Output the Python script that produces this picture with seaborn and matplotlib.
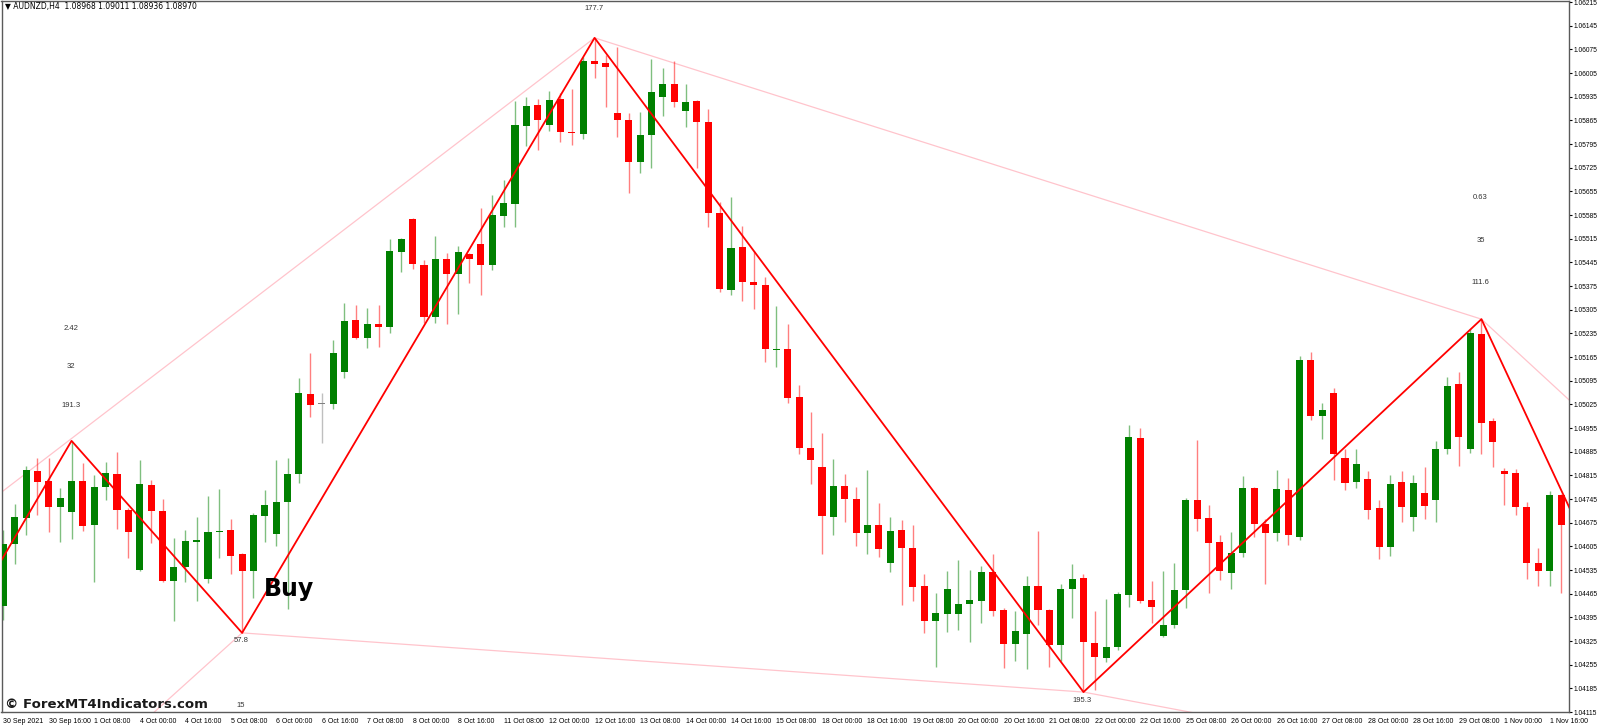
import matplotlib
matplotlib.use("Agg")
import matplotlib.pyplot as plt
import numpy as np
import pandas as pd
import seaborn as sns

# AUDNZD H4 candles, 30 Sep 2021 00:00 .. 1 Nov 2021 20:00
opens = [1.04428, 1.04612, 1.04689, 1.04828, 1.04798, 1.04721, 1.04707, 1.04798, 1.04668, 1.04781,
         1.04819, 1.04712, 1.04535, 1.04786, 1.04709, 1.04502, 1.04544, 1.04618, 1.04508, 1.04647,
         1.04653, 1.04582, 1.04532, 1.04695, 1.04641, 1.04736, 1.04819, 1.05055, 1.05026, 1.05026,
         1.05121, 1.05274, 1.05221, 1.05263, 1.05254, 1.05476, 1.05573, 1.05437, 1.05283, 1.05455,
         1.05411, 1.05470, 1.05499, 1.05437, 1.05582, 1.05618, 1.05848, 1.05910, 1.05851, 1.05928,
         1.05831, 1.05825, 1.06041, 1.06035, 1.05887, 1.05866, 1.05742, 1.05822, 1.05934, 1.05973,
         1.05893, 1.05922, 1.05860, 1.05591, 1.05363, 1.05490, 1.05387, 1.05378, 1.05186, 1.05189,
         1.05047, 1.04896, 1.04840, 1.04692, 1.04783, 1.04745, 1.04644, 1.04668, 1.04556, 1.04653,
         1.04600, 1.04488, 1.04384, 1.04405, 1.04405, 1.04434, 1.04443, 1.04529, 1.04417, 1.04316,
         1.04346, 1.04488, 1.04417, 1.04313, 1.04479, 1.04511, 1.04319, 1.04275, 1.04307, 1.04461,
         1.04925, 1.04446, 1.04340, 1.04372, 1.04476, 1.04742, 1.04689, 1.04618, 1.04526, 1.04585,
         1.04778, 1.04671, 1.04644, 1.04772, 1.04633, 1.05156, 1.04991, 1.05058, 1.04866, 1.04795,
         1.04804, 1.04718, 1.04603, 1.04795, 1.04692, 1.04763, 1.04742, 1.04893, 1.05085, 1.04893,
         1.05233, 1.04976, 1.04828, 1.04822, 1.04721, 1.04556, 1.04532, 1.04757]
highs = [1.04653, 1.04730, 1.04843, 1.04866, 1.04866, 1.04778, 1.04917, 1.04851, 1.04816, 1.04854,
         1.04884, 1.04718, 1.04860, 1.04801, 1.04745, 1.04630, 1.04653, 1.04692, 1.04754, 1.04775,
         1.04686, 1.04585, 1.04704, 1.04772, 1.04860, 1.04866, 1.05103, 1.05177, 1.05058, 1.05215,
         1.05325, 1.05319, 1.05310, 1.05319, 1.05514, 1.05517, 1.05576, 1.05452, 1.05523, 1.05473,
         1.05493, 1.05473, 1.05606, 1.05644, 1.05689, 1.05922, 1.05934, 1.05928, 1.05952, 1.05946,
         1.05958, 1.06052, 1.06109, 1.06058, 1.06082, 1.05887, 1.05890, 1.06047, 1.06020, 1.06041,
         1.05973, 1.05925, 1.05899, 1.05624, 1.05638, 1.05553, 1.05479, 1.05402, 1.05316, 1.05263,
         1.05082, 1.05002, 1.04940, 1.04863, 1.04819, 1.04781, 1.04831, 1.04733, 1.04692, 1.04683,
         1.04668, 1.04523, 1.04467, 1.04532, 1.04565, 1.04535, 1.04547, 1.04582, 1.04423, 1.04414,
         1.04517, 1.04650, 1.04420, 1.04494, 1.04553, 1.04523, 1.04414, 1.04449, 1.04470, 1.04964,
         1.04955, 1.04502, 1.04532, 1.04556, 1.04748, 1.04920, 1.04727, 1.04639, 1.04647, 1.04813,
         1.04781, 1.04686, 1.04831, 1.04807, 1.05168, 1.05180, 1.05029, 1.05073, 1.04893, 1.04893,
         1.04828, 1.04742, 1.04816, 1.04828, 1.04816, 1.04840, 1.04917, 1.05106, 1.05121, 1.05248,
         1.05277, 1.04985, 1.04837, 1.04834, 1.04736, 1.04600, 1.04769, 1.04760]
lows = [1.04387, 1.04553, 1.04639, 1.04698, 1.04647, 1.04618, 1.04627, 1.04650, 1.04499, 1.04742,
        1.04656, 1.04570, 1.04532, 1.04615, 1.04499, 1.04384, 1.04499, 1.04443, 1.04497, 1.04570,
        1.04523, 1.04349, 1.04452, 1.04618, 1.04606, 1.04420, 1.04792, 1.04988, 1.04911, 1.05011,
        1.05103, 1.05218, 1.05192, 1.05195, 1.05236, 1.05416, 1.05425, 1.05266, 1.05266, 1.05263,
        1.05292, 1.05384, 1.05348, 1.05422, 1.05550, 1.05550, 1.05789, 1.05777, 1.05834, 1.05801,
        1.05792, 1.05810, 1.05990, 1.05905, 1.05816, 1.05650, 1.05709, 1.05724, 1.05878, 1.05905,
        1.05845, 1.05724, 1.05550, 1.05357, 1.05348, 1.05331, 1.05307, 1.05150, 1.05135, 1.05029,
        1.04878, 1.04789, 1.04582, 1.04639, 1.04677, 1.04606, 1.04582, 1.04573, 1.04529, 1.04431,
        1.04443, 1.04349, 1.04248, 1.04352, 1.04358, 1.04322, 1.04378, 1.04399, 1.04245, 1.04266,
        1.04242, 1.04372, 1.04248, 1.04266, 1.04393, 1.04174, 1.04180, 1.04263, 1.04298, 1.04426,
        1.04437, 1.04378, 1.04337, 1.04363, 1.04423, 1.04650, 1.04467, 1.04505, 1.04479, 1.04573,
        1.04633, 1.04494, 1.04621, 1.04609, 1.04624, 1.04979, 1.04922, 1.04801, 1.04772, 1.04778,
        1.04686, 1.04568, 1.04576, 1.04677, 1.04650, 1.04686, 1.04677, 1.04878, 1.04843, 1.04881,
        1.04878, 1.04840, 1.04727, 1.04698, 1.04508, 1.04488, 1.04488, 1.04467]
closes = [1.04612, 1.04692, 1.04831, 1.04795, 1.04721, 1.04748, 1.04798, 1.04665, 1.04781, 1.04822,
          1.04712, 1.04647, 1.04789, 1.04709, 1.04502, 1.04544, 1.04621, 1.04624, 1.04647, 1.04650,
          1.04576, 1.04532, 1.04698, 1.04727, 1.04736, 1.04819, 1.05058, 1.05023, 1.05026, 1.05177,
          1.05272, 1.05221, 1.05263, 1.05254, 1.05479, 1.05514, 1.05440, 1.05283, 1.05455, 1.05411,
          1.05476, 1.05455, 1.05437, 1.05585, 1.05621, 1.05851, 1.05908, 1.05866, 1.05925, 1.05831,
          1.05828, 1.06041, 1.06032, 1.06023, 1.05866, 1.05742, 1.05822, 1.05949, 1.05973, 1.05919,
          1.05919, 1.05860, 1.05591, 1.05366, 1.05487, 1.05387, 1.05378, 1.05189, 1.05189, 1.05044,
          1.04896, 1.04860, 1.04695, 1.04783, 1.04745, 1.04644, 1.04668, 1.04597, 1.04650, 1.04600,
          1.04485, 1.04384, 1.04408, 1.04479, 1.04434, 1.04446, 1.04529, 1.04414, 1.04316, 1.04355,
          1.04488, 1.04417, 1.04313, 1.04479, 1.04508, 1.04322, 1.04278, 1.04307, 1.04464, 1.04928,
          1.04443, 1.04426, 1.04372, 1.04476, 1.04742, 1.04686, 1.04615, 1.04532, 1.04585, 1.04778,
          1.04671, 1.04644, 1.04775, 1.04639, 1.05156, 1.04991, 1.05008, 1.04878, 1.04792, 1.04849,
          1.04712, 1.04603, 1.04789, 1.04721, 1.04792, 1.04724, 1.04893, 1.05079, 1.04928, 1.05236,
          1.04970, 1.04914, 1.04819, 1.04721, 1.04556, 1.04532, 1.04757, 1.04668]

time_labels = ["30 Sep 2021", "30 Sep 16:00", "1 Oct 08:00", "4 Oct 00:00", "4 Oct 16:00",
               "5 Oct 08:00", "6 Oct 00:00", "6 Oct 16:00", "7 Oct 08:00", "8 Oct 00:00",
               "8 Oct 16:00", "11 Oct 08:00", "12 Oct 00:00", "12 Oct 16:00", "13 Oct 08:00",
               "14 Oct 00:00", "14 Oct 16:00", "15 Oct 08:00", "18 Oct 00:00", "18 Oct 16:00",
               "19 Oct 08:00", "20 Oct 00:00", "20 Oct 16:00", "21 Oct 08:00", "22 Oct 00:00",
               "22 Oct 16:00", "25 Oct 08:00", "26 Oct 00:00", "26 Oct 16:00", "27 Oct 08:00",
               "28 Oct 00:00", "28 Oct 16:00", "29 Oct 08:00", "1 Nov 00:00", "1 Nov 16:00"]

# zigzag turning points (bar index, price); first and last run off the chart
zz_idx = [-3, 6, 21, 52, 95, 130, 138]
zz_price = [1.04402, 1.04917, 1.04349, 1.06109, 1.04174, 1.05277, 1.04700]

# thin pattern lines of the harmonic indicator
pattern_lines = [((-7, 1.04589), (52, 1.06109)),
                 ((52, 1.06109), (130, 1.05277)),
                 ((130, 1.05277), (138, 1.05029)),
                 ((12, 1.04076), (21, 1.04349)),
                 ((21, 1.04349), (95, 1.04174)),
                 ((95, 1.04174), (110, 1.04079))]

# ratio labels next to the pivots: (bar, price, text, pixel offset up)
pivot_labels = [(52, 1.06109, "177.7", 29),
                (6, 1.04917, "191.3", 35), (6, 1.04917, "32", 74), (6, 1.04917, "2.42", 112),
                (21, 1.04349, "57.8", -8), (21, 1.04349, "15", -73),
                (95, 1.04174, "195.3", -8),
                (130, 1.05277, "111.6", 37), (130, 1.05277, "35", 79), (130, 1.05277, "0.63", 122)]

sns.set_style("white")
plt.rcParams["font.family"] = ["Liberation Sans", "DejaVu Sans"]

df = pd.DataFrame({"open": opens, "high": highs, "low": lows, "close": closes})
df["bar"] = np.arange(len(df))
df["color"] = np.where(df.close > df.open, "#008000",
                       np.where(df.close < df.open, "#ff0000", "#808080"))
body_lo = df[["open", "close"]].min(axis=1)
body_h = (df.close - df.open).abs().clip(lower=0.00003)

fig = plt.figure(figsize=(16, 7.25), dpi=100)
ax = fig.add_axes([1.5 / 1600, 13 / 725, 1567.5 / 1600, 711 / 725])

for (i0, p0), (i1, p1) in pattern_lines:
    sns.lineplot(x=[i0, i1], y=[p0, p1], color="#ffc4cc", lw=0.9, sort=False,
                 estimator=None, ax=ax, zorder=1)

ax.vlines(df.bar, df.low, df.high, colors=df.color, lw=1, alpha=0.5, zorder=2)
ax.bar(df.bar, body_h, bottom=body_lo, width=0.62, color=df.color, linewidth=0, zorder=3)

sns.lineplot(x=zz_idx, y=zz_price, color="#ff0000", lw=1.3, sort=False,
             estimator=None, ax=ax, zorder=4)

for i, p, txt, dy in pivot_labels:
    ax.annotate(txt, (i, p), xytext=(-1, dy), textcoords="offset pixels",
                ha="center", va="center", fontsize=5.5, color="#333333")

ax.text(22.9, 1.04478, "Buy", fontsize=17, fontweight="bold", color="black",
        family="DejaVu Sans", va="center", ha="left", zorder=5)

ax.set_xlim(-0.16, 137.7)
ax.set_ylim(1.04115, 1.06218)

ax.set_xticks(np.arange(0, len(df), 4))
ax.set_xticklabels(time_labels, ha="left")
price_ticks = 1.04115 + 0.0007 * np.arange(31)
ax.yaxis.tick_right()
ax.set_yticks(price_ticks)
ax.set_yticklabels([f"{t:.5f}" for t in price_ticks])
ax.tick_params(axis="x", labelsize=5, length=3, width=0.8, pad=1.5,
               colors="#000000", direction="out")
ax.tick_params(axis="y", labelsize=4.8, length=2, width=0.8, pad=1.5,
               colors="#000000", direction="out")

for side, sp in ax.spines.items():
    sp.set_color("#5a5a5a")
    sp.set_linewidth(1)
    sp.set_visible(True)

ax.set_xlabel("")
ax.set_ylabel("")

fig.text(5 / 1600, 1 - 7 / 725, "\u25bc AUDNZD,H4  1.08968 1.09011 1.08936 1.08970",
         fontsize=5.5, va="center", ha="left", color="black", family=["DejaVu Sans"])
fig.text(5 / 1600, 1 - 704 / 725, "\u00a9 ForexMT4Indicators.com", fontsize=9.5,
         fontweight="bold", va="center", ha="left", color="#1a1a1a", family="DejaVu Sans")

plt.savefig("out.png", dpi=100)
plt.close("all")
